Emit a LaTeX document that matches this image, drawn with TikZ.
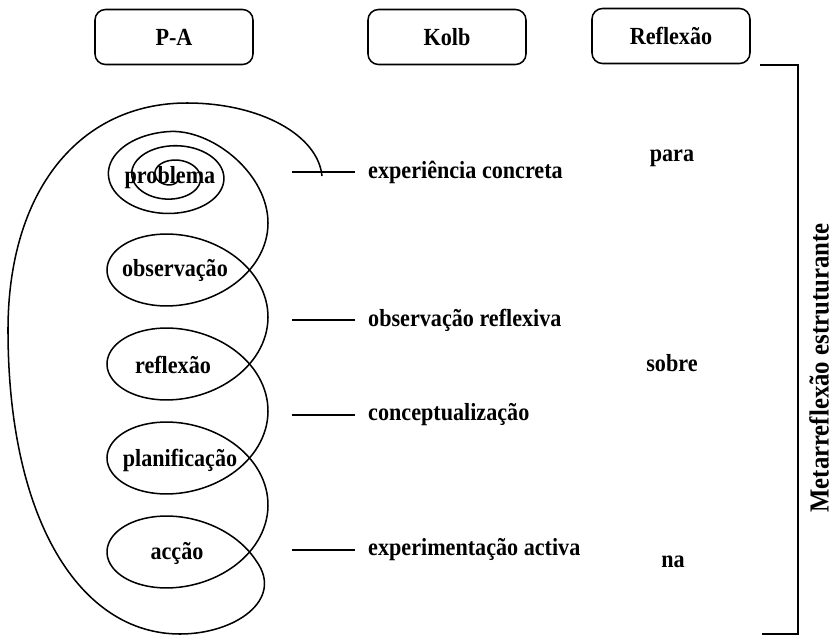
\documentclass[tikz,border=0pt]{standalone}
\usepackage{fontspec}
\setmainfont{Liberation Serif}[FakeStretch=0.9]
\usetikzlibrary{positioning}
\tikzset{
  hdr/.style={draw, rounded corners=9pt, line width=1.3pt, minimum width=4.74cm, minimum height=1.65cm, font=\fontsize{21}{24}\selectfont\bfseries},
  lbl/.style={inner sep=0pt, font=\fontsize{21}{24}\selectfont\bfseries},
  curve/.style={line width=1.3pt, line join=round},
  tick/.style={line width=1.3pt}
}
\begin{document}
\begin{tikzpicture}[x=0.03cm, y=-0.03cm]
  \useasboundingbox (0,0) rectangle (834,637);
  \node[hdr] (pa) at (174,37) {P-A};
  \node[hdr] (kolb) at (447,37) {Kolb};
  \node[hdr] (refl) at (671,36) {Reflexão};

  \draw[curve] plot[domain=40:990, samples=240, variable=\t]
      ({172+(5+0.065*\t)*cos(\t)}, {176+(5+0.04*\t)*sin(\t)})
    .. controls (215,131) and (268,175) .. (268,223)
    plot[domain=0:24.6, samples=400, variable=\t]
      ({187.5+80.5*cos(\t r)}, {223+14.96*\t+57.5*sin(\t r)})
    .. controls (284,600) and (235,634) .. (180,634)
    .. controls (80,634) and (8,520) .. (8,330)
    .. controls (8,190) and (80,103) .. (187,103)
    .. controls (260,103) and (318,135) .. (322,176);

  \node[lbl] (prob) at (170,178) {problema};
  \node[lbl] (obs) at (175,270) {observação};
  \node[lbl] (ref) at (173,365) {reflexão};
  \node[lbl] (plan) at (180,460) {planificação};
  \node[lbl] (acc) at (177,553) {acção};

  \node[lbl, anchor=west] (kexp) at (368,172) {experiência concreta};
  \node[lbl, anchor=west] (kobs) at (368,320) {observação reflexiva};
  \node[lbl, anchor=west] (kcon) at (368,415) {conceptualização};
  \node[lbl, anchor=west] (kact) at (368,550) {experimentação activa};
  \foreach \k in {kexp,kobs,kcon,kact}
    \draw[tick] (\k.west) ++(-13,0) -- ++(-63,0);

  \node[lbl] (para) at (672,158) {para};
  \node[lbl] (sobre) at (672,363) {sobre};
  \node[lbl] (na) at (673,562) {na};

  \node[lbl, rotate=90, font=\fontsize{23.5}{26}\selectfont\bfseries] (meta) at (819,368) {Metarreflexão estruturante};
  \draw[tick] (760,65) -| (798,634) -- (762,634);
\end{tikzpicture}
\end{document}
